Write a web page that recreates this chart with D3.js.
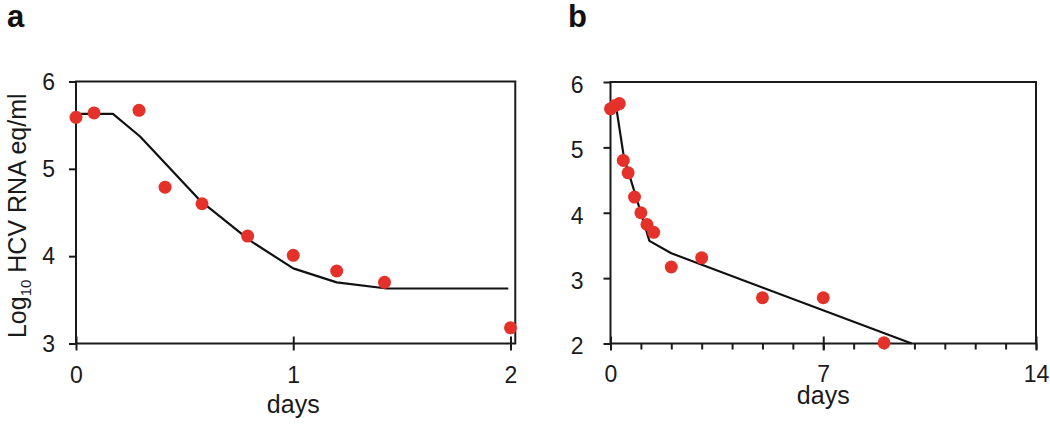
<!DOCTYPE html>
<html>
<head>
<meta charset="utf-8">
<script src="https://cdn.jsdelivr.net/npm/d3@7"></script>
<style>
  html, body { margin: 0; padding: 0; background: #fff; }
  svg { display: block; font-family: "Liberation Sans", Arial, Helvetica, sans-serif; }
</style>
</head>
<body>
<svg id="chart" width="1050" height="427"></svg>
<script>
// ---- Data ----
// Panel a: first two days
const aDays = [0, 0.083, 0.29, 0.41, 0.58, 0.79, 1.0, 1.2, 1.42, 2.0];
const aLogRNA = [5.59, 5.64, 5.67, 4.79, 4.60, 4.23, 4.01, 3.83, 3.70, 3.18];
const aFitDays = [0, 0.17, 0.295, 0.57, 0.80, 1.0, 1.2, 1.43, 1.99];
const aFitLog = [5.63, 5.63, 5.37, 4.64, 4.18, 3.86, 3.70, 3.63, 3.63];
const aXTicks = [0, 1, 2];
const aYTicks = [3, 4, 5, 6];

// Panel b: two weeks
const bDays = [0, 0.15, 0.29, 0.42, 0.58, 0.79, 1.0, 1.2, 1.42, 2.0, 3, 5, 7, 9];
const bLogRNA = [5.59, 5.64, 5.67, 4.80, 4.61, 4.24, 4.00, 3.82, 3.70, 3.17, 3.31, 2.70, 2.70, 2.01];
const bFitDays = [0, 0.17, 0.44, 1.0, 1.28, 2.0, 9.91];
const bFitLog = [5.64, 5.67, 4.85, 4.0, 3.57, 3.38, 2.0];
const bXMajor = [0, 7, 14];
const bXMinor = d3.range(0, 15);
const bYTicks = [2, 3, 4, 5, 6];

const xLabel = "days";
const RED = "#e4322a";

const svg = d3.select("#chart");

function panel(cfg) {
  const g = svg.append("g");
  const x = cfg.x, y = cfg.y;
  const x0 = x.range()[0], x1 = cfg.frameRight;
  const y0 = y.range()[0], y1 = y.range()[1];

  // frame
  g.append("rect")
    .attr("x", x0).attr("y", y1)
    .attr("width", x1 - x0).attr("height", y0 - y1)
    .attr("fill", "none").attr("stroke", "#1a1a1a").attr("stroke-width", 2);

  // y axis ticks (outward)
  const yAxis = d3.axisLeft(y).tickValues(cfg.yTicks).tickSize(7).tickPadding(cfg.yPad).tickFormat(d3.format("d"));
  const ya = g.append("g").attr("transform", `translate(${x0},0)`).call(yAxis);
  ya.select(".domain").remove();
  ya.selectAll("line").attr("stroke", "#1a1a1a").attr("stroke-width", 2);
  ya.selectAll("text").attr("font-size", 23).attr("fill", "#1a1a1a")
    .attr("font-family", "Liberation Sans, Arial, sans-serif").attr("dy", cfg.yDy);

  // minor x ticks (outward only)
  if (cfg.xMinor) {
    const xm = g.append("g").attr("transform", `translate(0,${y0})`)
      .call(d3.axisBottom(x).tickValues(cfg.xMinor).tickSize(6).tickFormat(""));
    xm.select(".domain").remove();
    xm.selectAll("line").attr("stroke", "#1a1a1a").attr("stroke-width", 2);
  }
  // major x ticks crossing the axis
  const xa = g.append("g").attr("transform", `translate(0,${y0})`)
    .call(d3.axisBottom(x).tickValues(cfg.xTicks).tickSize(7).tickPadding(cfg.xPad).tickFormat(d3.format("d")));
  xa.select(".domain").remove();
  xa.selectAll("line").attr("y1", -7).attr("y2", 7).attr("stroke", "#1a1a1a").attr("stroke-width", 2);
  xa.selectAll("text").attr("font-size", 23).attr("fill", "#1a1a1a")
    .attr("font-family", "Liberation Sans, Arial, sans-serif");

  // fit line
  const fit = cfg.fitX.map((d, i) => [d, cfg.fitY[i]]);
  g.append("path").datum(fit)
    .attr("d", d3.line().x(d => x(d[0])).y(d => y(d[1])))
    .attr("fill", "none").attr("stroke", "#111").attr("stroke-width", 2.2)
    .attr("stroke-linejoin", "round");

  // points
  const pts = cfg.px.map((d, i) => [d, cfg.py[i]]);
  g.append("g").selectAll("circle").data(pts).join("circle")
    .attr("cx", d => x(d[0])).attr("cy", d => y(d[1])).attr("r", 6.5)
    .attr("fill", RED);

  // x label
  g.append("text").attr("x", cfg.xLabelX).attr("y", cfg.xLabelY)
    .attr("text-anchor", "middle").attr("font-size", 25).attr("fill", "#1a1a1a")
    .text(xLabel);

  // panel letter
  g.append("text").attr("x", cfg.letterX).attr("y", 27)
    .attr("font-size", 31).attr("font-weight", "bold").attr("fill", "#111")
    .text(cfg.letter);
}

// Panel a
const xa = d3.scaleLinear().domain([0, 2]).range([76, 510.5]);
const ya = d3.scaleLinear().domain([3, 6]).range([343.5, 81.5]);
panel({
  x: xa, y: ya, frameRight: xa(2.022),
  yTicks: aYTicks, xTicks: aXTicks, xMinor: null,
  yPad: 14, yDy: "0.34em", xPad: 16,
  fitX: aFitDays, fitY: aFitLog, px: aDays, py: aLogRNA,
  xLabelX: xa(1), xLabelY: 413, letter: "a", letterX: 7
});

// Panel b
const xb = d3.scaleLinear().domain([0, 14]).range([610.5, 1036]);
const yb = d3.scaleLinear().domain([2, 6]).range([343.5, 82]);
panel({
  x: xb, y: yb, frameRight: xb(14),
  yTicks: bYTicks, xTicks: bXMajor, xMinor: bXMinor,
  yPad: 20, yDy: "0.45em", xPad: 15,
  fitX: bFitDays, fitY: bFitLog, px: bDays, py: bLogRNA,
  xLabelX: xb(7), xLabelY: 404, letter: "b", letterX: 568
});

// y-axis title (panel a)
const yt = svg.append("text")
  .attr("transform", `translate(26,${(343.5 + 88) / 2}) rotate(-90)`)
  .attr("text-anchor", "middle").attr("font-size", 25).attr("fill", "#1a1a1a");
yt.append("tspan").text("Log");
yt.append("tspan").attr("font-size", 15).attr("dy", 5).text("10");
yt.append("tspan").attr("dy", -5).text(" HCV RNA eq/ml");
</script>
</body>
</html>
